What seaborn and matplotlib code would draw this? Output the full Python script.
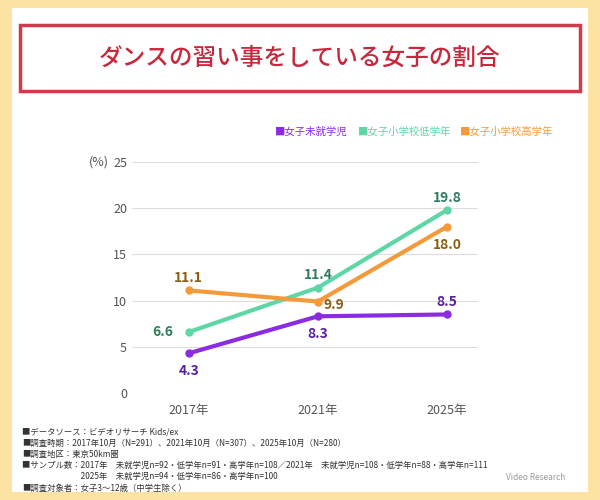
import matplotlib
matplotlib.use("Agg")
import matplotlib.pyplot as plt
import seaborn as sns
import pandas as pd
from matplotlib.patches import Rectangle

sns.set_theme(style="white")
plt.rcParams['font.family'] = ['Noto Sans CJK JP', 'DejaVu Sans']

years = ["2017年", "2021年", "2025年"]
series = ["女子未就学児", "女子小学校低学年", "女子小学校高学年"]
v_pre = [4.3, 8.3, 8.5]
v_low = [6.6, 11.4, 19.8]
v_high = [11.1, 9.9, 18.0]
yticks = [0, 5, 10, 15, 20, 25]

colors = ["#8B2BE2", "#5ED6A6", "#F59A3A"]
tcolors = ["#5B1FA6", "#2E7D5B", "#8B5E10"]

df = pd.DataFrame({
    "year": years * 3,
    "x": [0, 1, 2] * 3,
    "series": [series[0]] * 3 + [series[1]] * 3 + [series[2]] * 3,
    "value": v_pre + v_low + v_high,
})

fig = plt.figure(figsize=(6, 5), dpi=100)
fig.patch.set_facecolor("#FDE3A3")
fig.patches.append(Rectangle((12/600, 8/500), 576/600, 484/500, transform=fig.transFigure,
                             facecolor="white", edgecolor="none", zorder=-2))
fig.patches.append(Rectangle((20/600, 409/500), 560/600, 66/500, transform=fig.transFigure,
                             facecolor="white", edgecolor="#D23A4A", linewidth=2.5, zorder=-1))
fig.text(0.5, 442/500, "ダンスの習い事をしている女子の割合", ha="center", va="center",
         fontsize=17, color="#C8283C", fontweight="medium")

ax = fig.add_axes([132/600, 107/500, 346/600, 231/500])
ax.set_zorder(5)
ax.set_facecolor("none")
sns.lineplot(data=df, x="x", y="value", hue="series", palette=colors, marker="o",
             markersize=6, markeredgewidth=0, linewidth=3, ax=ax, legend=False)
ax.set_xlim(-0.44, 2.24)
ax.set_ylim(0, 25)
ax.set_yticks(yticks)
ax.set_xticks([0, 1, 2])
ax.set_xticklabels(years)
ax.set_xlabel("")
ax.set_ylabel("")
ax.grid(axis="y", color="#DDDDDD", linewidth=0.8)
for s in ax.spines.values():
    s.set_visible(False)
ax.tick_params(axis="both", length=0, colors="#555555", labelsize=9)
ax.tick_params(axis="x", pad=8)
ax.text(-0.62, 25, "(%)", ha="right", va="center", fontsize=9, color="#555555")

offs = {
    0: [(0, -13), (0, -13), (0, 9)],
    1: [(-0.2, 0), (0, 9), (0, 9)],
    2: [(0, 9), (0.12, -2.5), (0, -13)],
}
data = [v_pre, v_low, v_high]
for si in range(3):
    for xi in range(3):
        dx, dy = offs[si][xi]
        ax.annotate(f"{data[si][xi]:.1f}", (xi + dx, data[si][xi]), xytext=(0, dy),
                    textcoords="offset points", ha="center", va="center",
                    fontsize=10, fontweight="bold", color=tcolors[si])

lx = [275, 358, 460]
for i in range(3):
    fig.text(lx[i]/600, 368/500, "■" + series[i], fontsize=7.5, color=colors[i],
             ha="left", va="center")

notes = ["■データソース：ビデオリサーチ Kids/ex",
         "■調査時期：2017年10月（N=291）、2021年10月（N=307）、2025年10月（N=280）",
         "■調査地区：東京50km圏",
         "■サンプル数：2017年　未就学児n=92・低学年n=91・高学年n=108／2021年　未就学児n=108・低学年n=88・高学年n=111",
         "　　　　　　　2025年　未就学児n=94・低学年n=86・高学年n=100",
         "■調査対象者：女子3～12歳（中学生除く）"]
for i, n in enumerate(notes):
    fig.text(22/600, (68 - i * 11.2)/500, n, fontsize=6, color="#333333", ha="left", va="center")
fig.text(565/600, 23/500, "Video Research", fontsize=6, color="#999999", ha="right", va="center")

fig.savefig("out.png", dpi=100, facecolor=fig.get_facecolor())
